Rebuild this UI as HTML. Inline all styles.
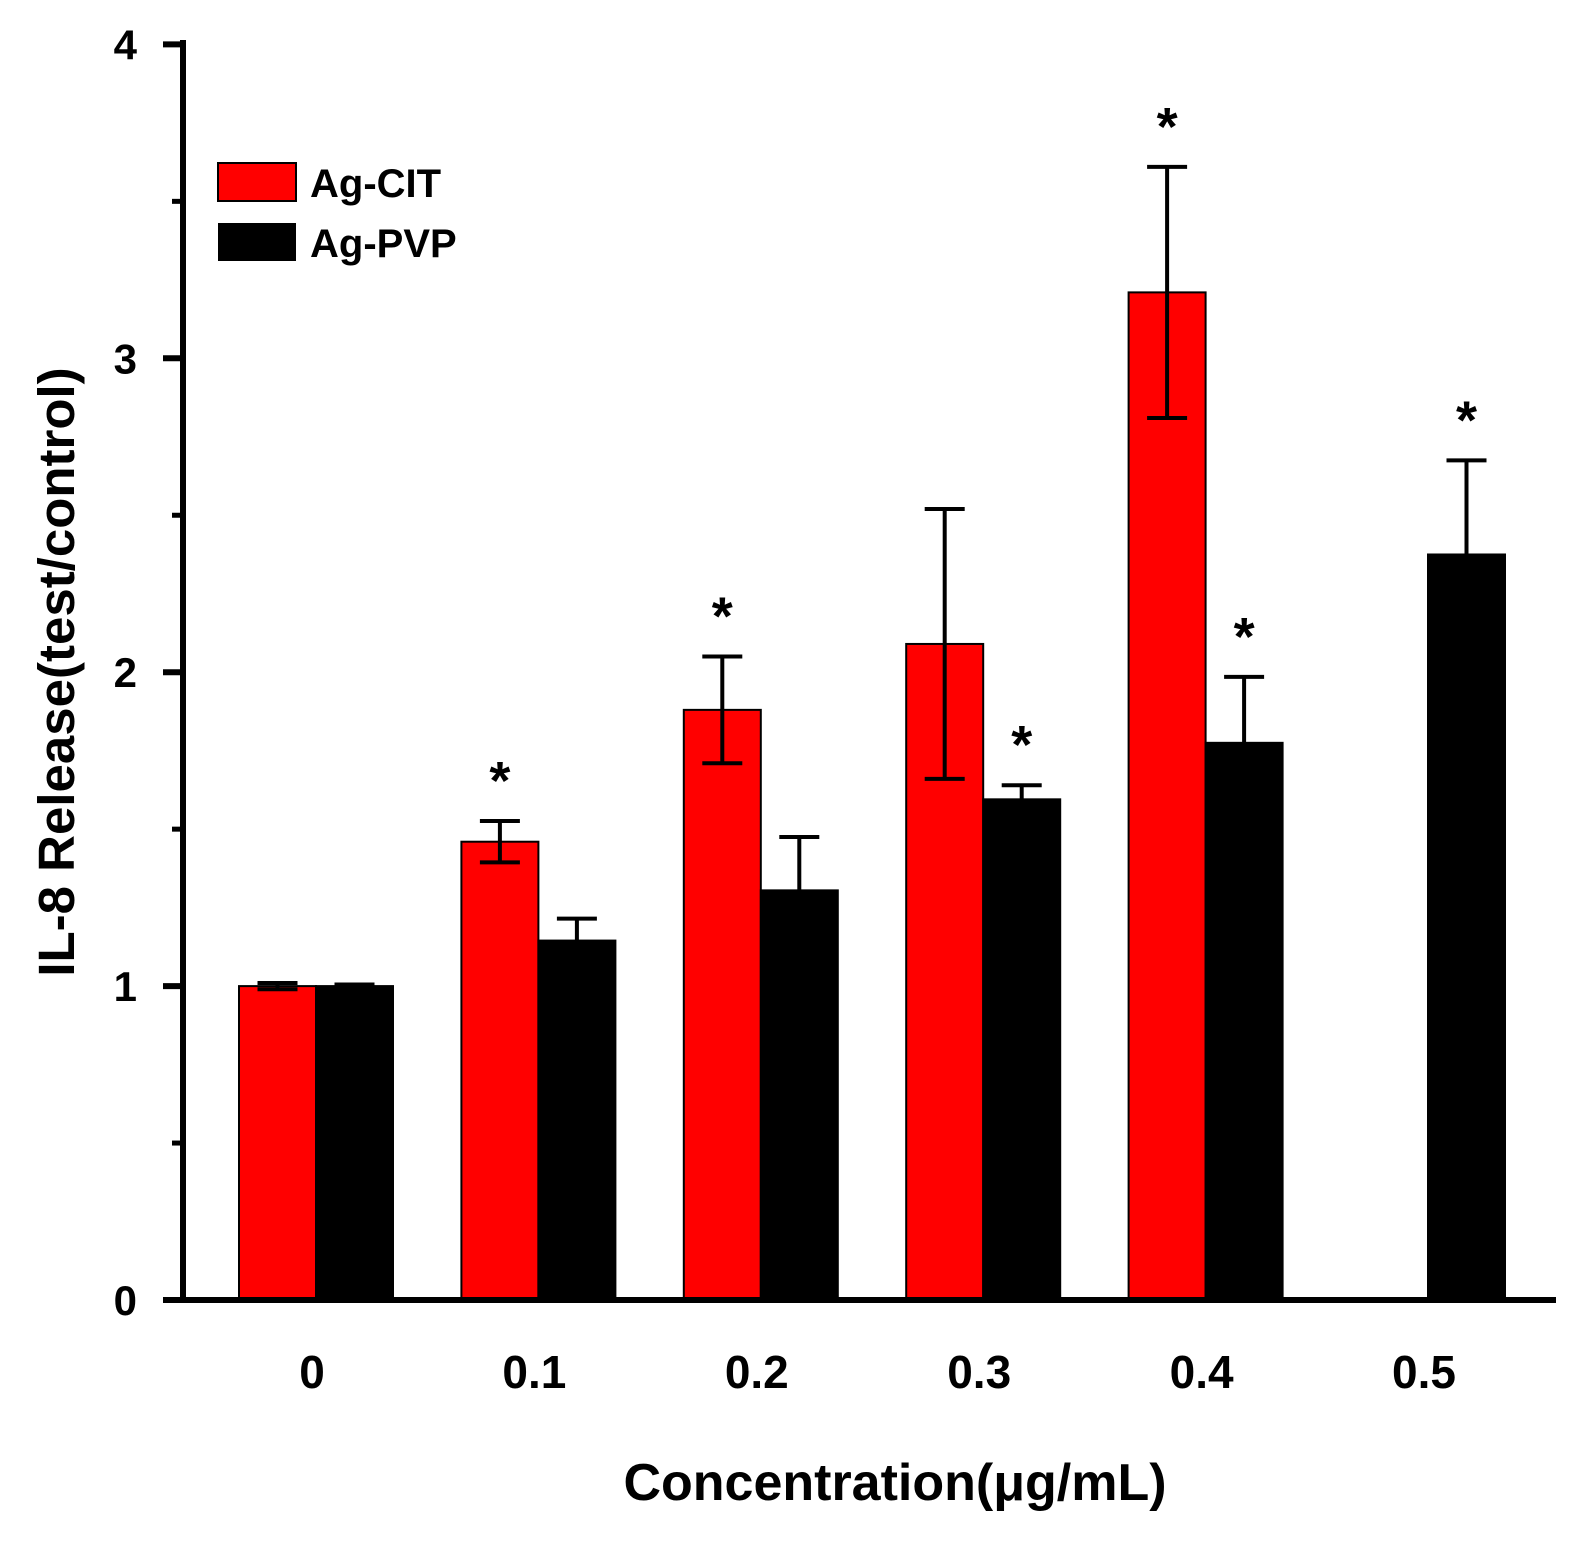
<!DOCTYPE html>
<html><head><meta charset="utf-8"><style>
html,body{margin:0;padding:0;background:#fff}
svg{display:block;font-family:"Liberation Sans",Arial,sans-serif;font-weight:bold}
</style></head><body>
<svg id="chart" width="1590" height="1547" viewBox="0 0 1590 1547" xmlns="http://www.w3.org/2000/svg"></svg>
<script>
const categories = ["0","0.1","0.2","0.3","0.4","0.5"];
const citValues = [1.0, 1.46, 1.88, 2.09, 3.21, null];
const citErrors = [0.01, 0.066, 0.17, 0.43, 0.40, null];
const citStars = [false, true, true, false, true, false];
const pvpValues = [1.0, 1.145, 1.305, 1.595, 1.775, 2.375];
const pvpErrors = [0.005, 0.07, 0.17, 0.045, 0.21, 0.30];
const pvpStars = [false, false, false, true, true, true];
const yTicks = [0, 1, 2, 3, 4];
const yMinorTicks = [0.5, 1.5, 2.5, 3.5];

const NS = "http://www.w3.org/2000/svg";
const svg = document.getElementById("chart");
const y0 = 1300, yUnit = 313.9;
const yScale = v => y0 - v * yUnit;
const groupX = i => 316 + i * 222.4;
const barW = 77;
function mk(tag, attrs, parent) {
  const e = document.createElementNS(NS, tag);
  for (const k in attrs) e.setAttribute(k, attrs[k]);
  (parent || svg).appendChild(e);
  return e;
}

function drawBar(i, v, err, star, color, offset, series) {
  if (v === null) return;
  const x = groupX(i) + offset;
  const top = yScale(v);
  const r = mk("rect", {x: x, y: top, width: barW, height: y0 - top, fill: color, stroke: "#000", "stroke-width": 2});
  
  
  const cx = x + barW / 2;
  const et = yScale(v + err), eb = yScale(v - err);
  const eg = mk("g", {stroke: "#000", "stroke-width": 4});
  
  
  mk("line", {x1: cx, x2: cx, y1: et, y2: eb}, eg);
  mk("line", {x1: cx - 20, x2: cx + 20, y1: et, y2: et}, eg);
  mk("line", {x1: cx - 20, x2: cx + 20, y1: eb, y2: eb}, eg);
  if (star) {
    const s = mk("text", {x: cx, y: et - 22, "text-anchor": "middle", "font-size": 54});
    s.textContent = "*";
    
    
  }
}
categories.forEach((c, i) => {
  drawBar(i, citValues[i], citErrors[i], citStars[i], "#ff0000", -barW, "ag-cit");
  drawBar(i, pvpValues[i], pvpErrors[i], pvpStars[i], "#000", 0, "ag-pvp");
  const t = mk("text", {x: groupX(i) - 4, y: 1388, "text-anchor": "middle", "font-size": 46});
  t.textContent = c;
  
  
});

const ax = mk("g", {stroke: "#000", "stroke-width": 6});


mk("line", {x1: 183, x2: 183, y1: 40, y2: 1303}, ax);
mk("line", {x1: 180, x2: 1556, y1: 1300, y2: 1300}, ax);
yTicks.forEach(v => {
  mk("line", {x1: 163, x2: 183, y1: yScale(v), y2: yScale(v)}, ax);
  const t = mk("text", {x: 137, y: yScale(v) + 15, "text-anchor": "end", "font-size": 42, stroke: "none"});
  t.textContent = v;
  
  
});
yMinorTicks.forEach(v => {
  mk("line", {x1: 172, x2: 183, y1: yScale(v), y2: yScale(v), "stroke-width": 5}, ax);
});
</script>
<svg style="position:absolute;left:0;top:0" width="1590" height="1547">
  <text transform="translate(74,672) rotate(-90)" text-anchor="middle" font-size="51" font-family="Liberation Sans, Arial, sans-serif" font-weight="bold">IL-8 Release(test/control)</text>
  <text x="895" y="1500" text-anchor="middle" font-size="52" font-family="Liberation Sans, Arial, sans-serif" font-weight="bold">Concentration(μg/mL)</text>
  <g font-family="Liberation Sans, Arial, sans-serif" font-weight="bold" font-size="40">
    <rect x="218" y="163" width="78" height="38" fill="#ff0000" stroke="#000" stroke-width="2"/>
    <text x="310" y="197">Ag-CIT</text>
    <rect x="218" y="223" width="78" height="38" fill="#000"/>
    <text x="310" y="257">Ag-PVP</text>
  </g>
</svg>
</body></html>
